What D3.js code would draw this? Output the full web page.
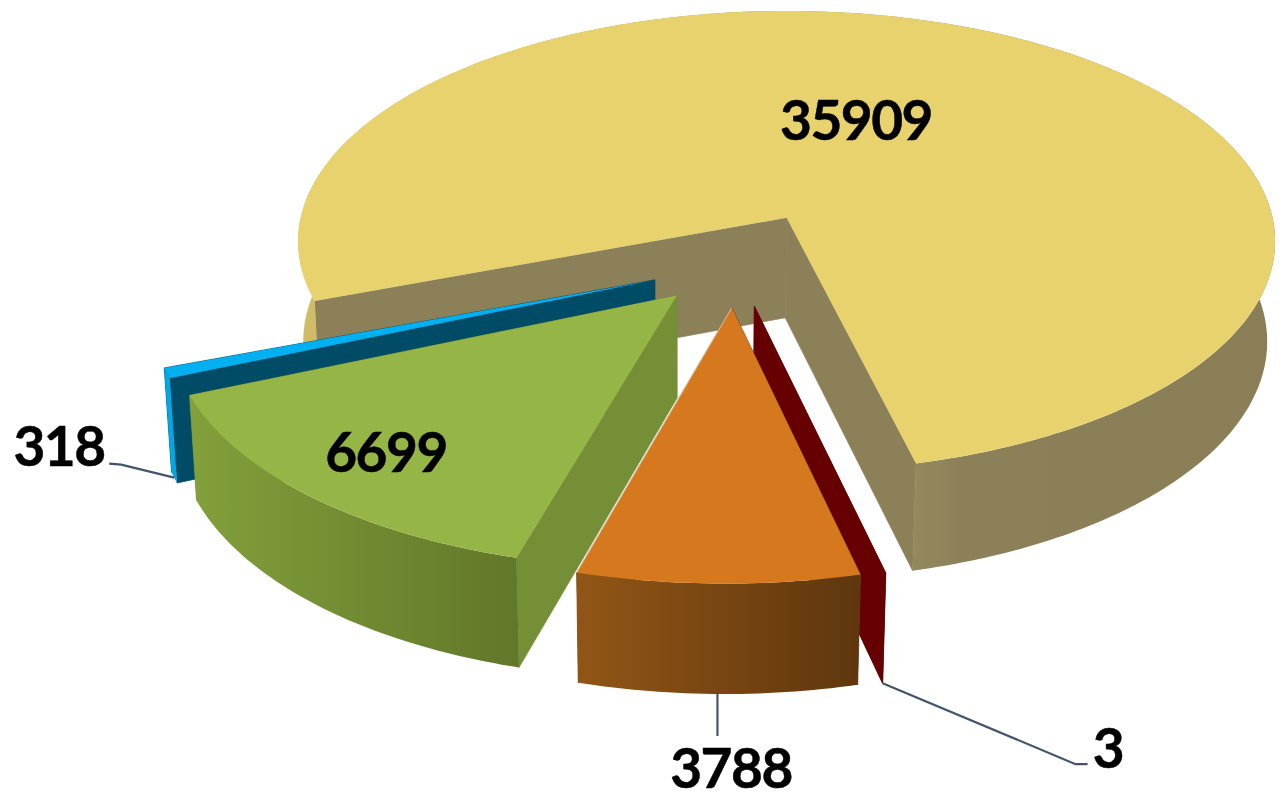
<!DOCTYPE html>
<html>
<head>
<meta charset="utf-8">
<style>
html,body{margin:0;padding:0;background:#fff;overflow:hidden}
svg{display:block}
text{font-family:Lato,sans-serif;font-weight:700;fill:#000;stroke:#000;stroke-width:0.5px;letter-spacing:-1.5px}
</style>
<script src="https://cdn.jsdelivr.net/npm/d3@7"></script>
</head>
<body>
<svg id="chart" width="1281" height="799"></svg>
<script>
// Slice values in clockwise order, starting at the large wedge
const sliceValues = [35909, 3, 3788, 6699, 318];
const sliceKeys = ["large", "sliver", "orange", "green", "blue"];
const explodeAmounts = [0.228, 0.177, 0.177, 0.170, 0.170];

const topColors = ["#E8D26E", "#7A0000", "#D6791E", "#95B646", "#00B0F0"];
const sideColors = ["#8C8059", "#660000", "#6F3F10", "#748F36", "#004B66"];
const rimStops = [
  [[0, "#D0BC66"], [0.02, "#CFBC68"], [0.62, "#958B5D"], [0.68, "#8C8059"], [1, "#8A7E57"]],
  [[0, "#660000"], [1, "#660000"]],
  [[0, "#915616"], [1, "#5F360E"]],
  [[0, "#82A03B"], [1, "#627729"]],
  [[0, "#00A8E6"], [1, "#00A8E6"]]
];

// Leader lines run from the rim of a slice through these offsets to its label
const labelTexts = ["35909", "3", "3788", "6699", "318"];
const labelOffsets = {sliver: [[193, 81], [205, 81]], orange: [[0, 42]], blue: [[-53, -13], [-65, -14]]};
const labelPlacement = [
  {x: 856, y: 140, i: 0},
  {x: 386, y: 472, i: 3},
  {x: 59, y: 466, i: 4},
  {x: 731, y: 788, i: 2},
  {x: 1108, y: 768, i: 1}
];

// Perspective of the pie plane: u to the right, v toward the viewer, z downward
const camera = {x0: 787, y0: 218, a: 486, b: 228, k: 0.102, m: 0.0134, h: 101.3, dz: -1.4};
const pieCentre = [-0.107, 0.201];
const firstAngle = 249.4 * Math.PI / 180;

function project(u, v, z) {
  const w = 1 - camera.k * v + camera.m * z;
  return [
    camera.x0 + (camera.a * u + camera.dz * z) / w,
    camera.y0 + (camera.b * v + camera.h * z) / w
  ];
}

const arcs = d3.pie().sort(null).startAngle(firstAngle).endAngle(firstAngle + 2 * Math.PI)(sliceValues);

const slices = arcs.map((d, i) => {
  const mid = (d.startAngle + d.endAngle) / 2;
  const apex = [
    pieCentre[0] + explodeAmounts[i] * Math.sin(mid),
    pieCentre[1] - explodeAmounts[i] * Math.cos(mid)
  ];
  const rim = a => [apex[0] + Math.sin(a), apex[1] - Math.cos(a)];
  const steps = Math.max(2, Math.ceil((d.endAngle - d.startAngle) * 60));
  const angles = d3.range(steps + 1).map(s => d.startAngle + (d.endAngle - d.startAngle) * s / steps);
  return {i, key: sliceKeys[i], d, mid, apex, rim, angles};
});

const svg = d3.select("#chart");
const defs = svg.append("defs");
const line = d3.line();

function drawPoly(points, fill, edge) {
  const p = svg.append("path").attr("d", line(points) + "Z").attr("fill", fill);
  if (edge) p.attr("stroke", fill).attr("stroke-width", 0.7);
}

function drawSlice(s) {
  const rimPts = s.angles.map(s.rim);
  const topRim = rimPts.map(p => project(p[0], p[1], 0));
  const lowRim = rimPts.map(p => project(p[0], p[1], 1));
  const a0 = project(s.apex[0], s.apex[1], 0);
  const a1 = project(s.apex[0], s.apex[1], 1);
  const last = topRim.length - 1;

  // Cut faces at both ends of the wedge; a thin edge hides the seam at the apex
  drawPoly([a0, topRim[0], lowRim[0], a1], sideColors[s.i], true);
  drawPoly([a0, topRim[last], lowRim[last], a1], sideColors[s.i], true);

  // Curved outer wall, shaded across its width
  const xs = topRim.concat(lowRim).map(p => p[0]);
  const gid = "rim-" + s.key;
  const g = defs.append("linearGradient").attr("id", gid)
    .attr("gradientUnits", "userSpaceOnUse")
    .attr("x1", d3.min(xs)).attr("x2", d3.max(xs)).attr("y1", 0).attr("y2", 0);
  g.selectAll("stop").data(rimStops[s.i]).join("stop")
    .attr("offset", d => d[0]).attr("stop-color", d => d[1]);
  drawPoly(topRim.concat(lowRim.slice().reverse()), `url(#${gid})`);

  // Top face
  drawPoly([a0].concat(topRim), topColors[s.i]);

  // Pale highlight along the orange wedge where it overlaps the green wall
  if (s.key === "orange") {
    svg.append("path").attr("d", line([a0, topRim[last]])).attr("fill", "none")
      .attr("stroke", "#F4F0E4").attr("stroke-width", 1).attr("stroke-opacity", 0.7);
  }
}

// Paint from the back of the scene to the front
["large", "blue", "green", "sliver", "orange"].forEach(k => drawSlice(slices.find(s => s.key === k)));

// Leader lines
const leaderColor = "#44546A";
Object.entries(labelOffsets).forEach(([key, offs]) => {
  const s = slices.find(t => t.key === key);
  const p = s.rim(s.mid);
  const start = project(p[0], p[1], 1);
  const pts = [start].concat(offs.map(o => [start[0] + o[0], start[1] + o[1]]));
  svg.append("path").attr("d", line(pts)).attr("fill", "none")
    .attr("stroke", leaderColor).attr("stroke-width", 2.2);
});

// Value labels
svg.selectAll("text.value").data(labelPlacement).join("text")
  .attr("class", "value")
  .attr("x", d => d.x).attr("y", d => d.y)
  .attr("text-anchor", "middle")
  .attr("font-size", 55)
  .text(d => labelTexts[d.i]);
</script>
</body>
</html>
